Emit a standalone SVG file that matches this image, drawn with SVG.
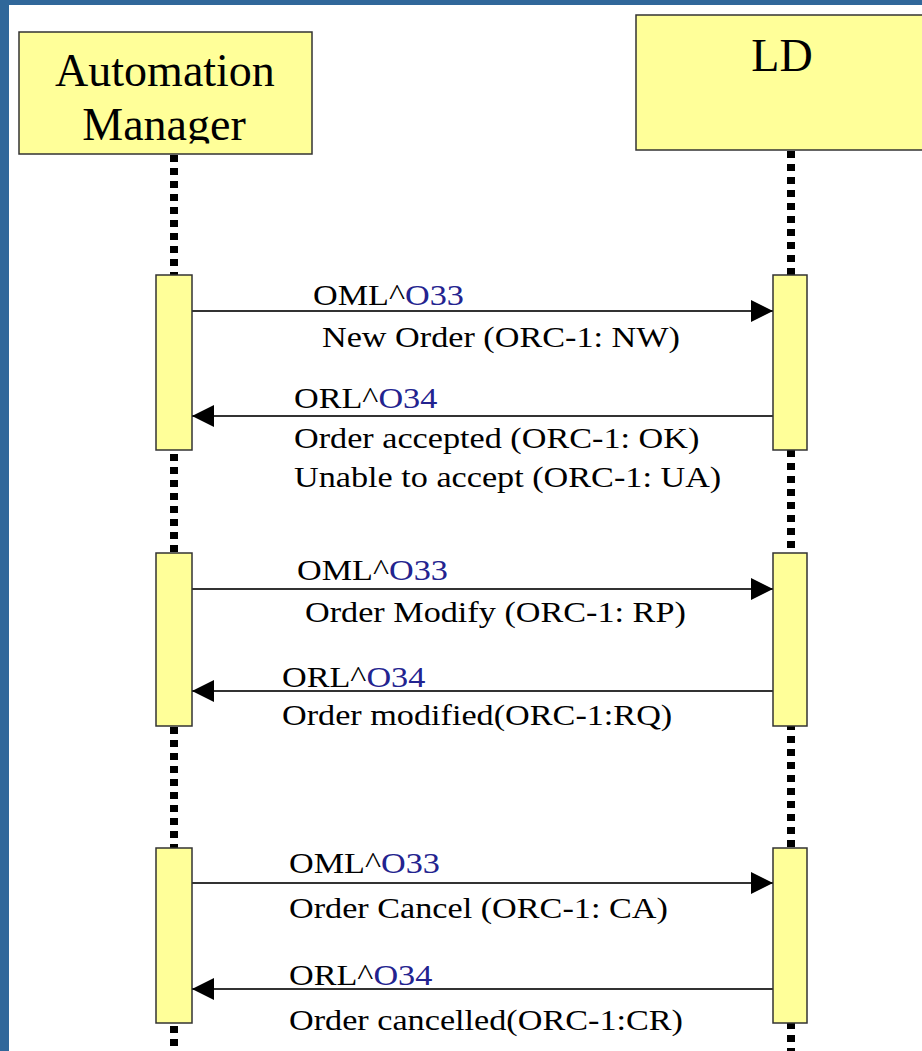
<svg xmlns="http://www.w3.org/2000/svg" width="922" height="1051" viewBox="0 0 922 1051">
<style>
.hdr{fill:#ffff99;stroke:#333;stroke-width:1.5}
.act{fill:#ffff99;stroke:#333;stroke-width:1.5}
.life{stroke:#000;stroke-width:8;stroke-dasharray:7 6;fill:none}
.serif{font-family:Tinos,"Times New Roman",serif}
.title{font-size:46px;fill:#000;text-anchor:middle}
.msg{font-size:30px;fill:#000}
.blue{fill:#23238f}
.arrow{stroke:#333;stroke-width:2;fill:none}
</style>
<defs>
<marker id="ah" viewBox="0 0 22 22" refX="22" refY="11" markerWidth="22" markerHeight="22" markerUnits="userSpaceOnUse" orient="auto">
<path d="M0,0 L22,11 L0,22 Z" fill="#000"/>
</marker>
<clipPath id="amclip"><rect x="19" y="32" width="293" height="111.5"/></clipPath>
</defs>
<rect x="0" y="0" width="922" height="1051" fill="#fff"/>
<rect x="0" y="0" width="922" height="5" fill="#30679a"/>
<rect x="0" y="0" width="9" height="1051" fill="#30679a"/>

<g id="lifelines">
<line class="life" x1="174" y1="155" x2="174" y2="1051"/>
<line class="life" x1="791" y1="151" x2="791" y2="1051"/>
</g>

<g id="automation-manager">
<rect class="hdr" x="19" y="32" width="293" height="122"/>
<g clip-path="url(#amclip)">
<text class="title serif" x="165" y="86">Automation</text>
<text class="title serif" x="164" y="140">Manager</text>
</g>
</g>

<g id="ld">
<rect class="hdr" x="636" y="15" width="300" height="135"/>
<text class="title serif" x="782" y="71">LD</text>
</g>

<g id="activations">
<rect class="act" x="156" y="275" width="36" height="175"/>
<rect class="act" x="773" y="275" width="34" height="175"/>
<rect class="act" x="156" y="553" width="36" height="173"/>
<rect class="act" x="773" y="553" width="34" height="173"/>
<rect class="act" x="156" y="848" width="36" height="175"/>
<rect class="act" x="773" y="848" width="34" height="175"/>
</g>

<g id="connectors">
<line class="arrow" x1="192" y1="311" x2="773" y2="311" marker-end="url(#ah)"/>
<line class="arrow" x1="773" y1="416" x2="192" y2="416" marker-end="url(#ah)"/>
<line class="arrow" x1="192" y1="589" x2="773" y2="589" marker-end="url(#ah)"/>
<line class="arrow" x1="773" y1="691" x2="192" y2="691" marker-end="url(#ah)"/>
<line class="arrow" x1="192" y1="883" x2="773" y2="883" marker-end="url(#ah)"/>
<line class="arrow" x1="773" y1="989" x2="192" y2="989" marker-end="url(#ah)"/>
</g>

<g id="labels">
<text class="msg serif" transform="translate(313,305) scale(1.14,1)">OML^<tspan class="blue">O33</tspan></text>
<text class="msg serif" transform="translate(322,347) scale(1.14,1)">New Order (ORC-1: NW)</text>
<text class="msg serif" transform="translate(294,408) scale(1.14,1)">ORL^<tspan class="blue">O34</tspan></text>
<text class="msg serif" transform="translate(294,448) scale(1.14,1)">Order accepted (ORC-1: OK)</text>
<text class="msg serif" transform="translate(294,487) scale(1.14,1)">Unable to accept (ORC-1: UA)</text>

<text class="msg serif" transform="translate(297,580) scale(1.14,1)">OML^<tspan class="blue">O33</tspan></text>
<text class="msg serif" transform="translate(305,622) scale(1.14,1)">Order Modify (ORC-1: RP)</text>
<text class="msg serif" transform="translate(282,687) scale(1.14,1)">ORL^<tspan class="blue">O34</tspan></text>
<text class="msg serif" transform="translate(282,725) scale(1.14,1)">Order modified(ORC-1:RQ)</text>

<text class="msg serif" transform="translate(289,873) scale(1.14,1)">OML^<tspan class="blue">O33</tspan></text>
<text class="msg serif" transform="translate(289,918) scale(1.14,1)">Order Cancel (ORC-1: CA)</text>
<text class="msg serif" transform="translate(289,985) scale(1.14,1)">ORL^<tspan class="blue">O34</tspan></text>
<text class="msg serif" transform="translate(289,1030) scale(1.14,1)">Order cancelled(ORC-1:CR)</text>
</g>
</svg>
